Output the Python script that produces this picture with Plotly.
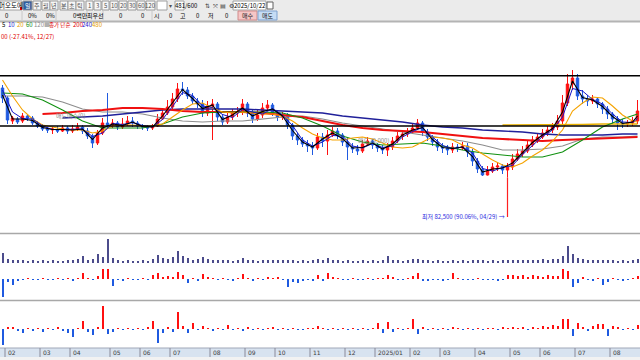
import plotly.graph_objects as go

W, H = 640, 360
FONT = "Noto Sans CJK KR"

# ---------------- chart data (prices in thousand KRW, one candle ~ 3 trading days) ----------------
opens = [172,162,139,141,139,144,142,137,134,131, 130,130,129,132,129,131,133,129,124,117,
         127,137,135,137,133,136,139,137,134,133, 132,134,141,147,153,161,171,170,164,159,
         156,147,154,156,143,138,143,147,148,156, 147,141,145,152,155,147,143,145,135,124,
         120,116,114,112,123,119,125,129,125,118, 113,111,109,116,119,115,112,110,113,119,
         124,126,128,132,137,128,123,118,113,112, 110,113,112,114,108,99,91,85,89,93,
         94,90,93,101,106,109,115,120,123,127, 130,133,139,157,176,182,164,161,159,161,
         156,151,146,141,137,136,137,139]
highs = [175,164,144,143,147,146,144,139,136,133, 133,134,135,134,135,137,135,132,126,130,
         142,167,141,139,142,144,143,139,136,135, 136,146,152,160,167,177,178,173,167,162,
         160,159,161,158,146,147,151,153,161,158, 150,150,157,160,157,150,148,147,137,127,
         123,120,118,127,127,130,133,132,127,122, 117,115,120,123,121,117,115,117,123,128,
         130,132,136,141,139,131,125,121,117,115, 117,116,118,117,111,102,94,94,97,98,
         96,97,106,111,114,119,124,127,131,134, 137,145,165,186,190,186,170,165,165,163,
         158,154,148,144,141,140,143,160]
lows = [157,136,136,136,137,139,135,132,129,127, 126,127,128,126,127,129,126,121,112,115,
        125,131,132,130,131,134,133,131,130,129, 130,133,140,145,150,158,165,161,156,152,
        143,144,120,139,135,136,140,143,145,143, 137,139,142,150,144,139,140,131,120,115,
        113,108,105,110,113,105,123,121,114,100, 107,105,107,114,111,108,106,104,110,117,
        120,123,126,131,124,119,114,109,107,105, 107,108,110,103,94,87,84,84.5,87,89,
        86,82.5,90,99,103,107,113,117,121,124, 127,130,136,154,170,160,156,154,156,152,
        146,141,136,130,132,133,134,136]
closes = [162,140,142,138,144,142,137,134,131,130, 131,129,132,129,131,133,129,124,117,127,
          137,135,137,133,136,139,137,134,133,132, 134,141,147,153,161,171,170,164,159,156,
          147,154,156,143,138,143,147,148,156,147, 141,145,152,155,147,143,145,135,124,120,
          116,114,112,123,119,125,129,125,118,113, 111,109,116,119,115,112,110,113,119,124,
          126,128,132,137,128,123,118,113,112,110, 113,112,114,108,99,91,85,89,93,94,
          90,93,101,106,109,115,120,123,127,130, 133,139,157,176,182,164,161,159,161,156,
          151,146,141,137,136,137,139,149]

# month axis
month_labels = ["02", "03", "04", "05", "06", "07", "08", "09", "10", "11", "12",
                "2025/01", "02", "03", "04", "05", "06", "07", "08"]
month_first_idx = [1, 8, 14, 22, 28, 34, 42, 49, 55, 62, 69, 75, 82, 88, 95, 102, 108, 115, 122]

ma_short_idx = list(range(0, 128, 2)) + [127]
ma5 = [165,141,141,139.5,132.5,130.5,130.5,130,131,120.5,
       132,136,134.5,138,133.5,133,144,157,170.5,161.5,
       151.5,155,140.5,145,152,144,148.5,151,144,129.5,
       118,113,121,127,121.5,112,112.5,117,111,116,
       125,130,132.5,120.5,112.5,111.5,113,103.5,88,91,
       92,97,107.5,117.5,125,131.5,148,179,162.5,160,
       153.5,143.5,136.5,138,144]
ma10 = [170,148,141.5,141,134,130.5,130.5,130.5,131,123.5,
        127,136.5,135.5,137.5,134.5,133,140.5,153.5,167.5,164.5,
        154,152.5,145.5,142.5,150.5,148,146,151.5,145,134.5,
        120,114,118,124.5,124,114,112,116.5,112.5,114,
        123,128.5,132.5,123,114.5,111.5,113,107,91.5,89,
        92.5,94.5,105.5,114.5,123.5,130,143,171.5,169,160.5,
        156,146,138,137.5,141.5]
ma20 = [180,164,150,141,135,133,131,130,130,127,
        129,134,135,135,134,134,136,143,150,156,
        157,152,148,147,148,147,146,146,144,139,
        132,126,122,120,120,122,123,121,117,113,
        112,113,118,123,122,120,115,112,106,100,
        95,93,97,104,110,119,130,149,157,163,
        162,154,145,139,138]
ma_long_idx = list(range(0, 128, 4)) + [127]
ma60 = [167,166,160,150,139,132,132,132,136,143,
        147,148,148,148,147,142,134,124,118,115,
        116,117,114,110,107,105,103,103,108,120,
        133,141,146]
ma120 = [164,164,163,158,151,148,148,146,142,139,
         138,139,139,141,143,144,141,137,134,131,
         128,125,122,119,115,110,110,111,114,121,
         123,123,124]
ma200 = [None,None,146,147,149,150,152,152,151,149,
         148,148,148,147,145,143,139,135,132,130,
         129,128,126,124,122,121,120,119,120,121,
         122,123,123]
ma240 = [None,None,None,142,143,144,146,148,150,151,
         151,151,151,150,149,148,147,144,142,140,
         138,135,133,132,130,129,128,126,125,125,
         125,126,126]
ma480_idx = [100, 104, 108, 112, 116, 120, 124, 127]
ma480 = [135, 135, 135, 135, 135.5, 136, 136, 136]

# volume (thousand shares) and two net-buying panes
volume = [100,40,25,30,25,20,25,20,30,20, 25,20,20,25,30,35,70,30,35,90,
          60,230,50,25,20,25,20,20,25,20, 40,80,50,40,60,120,70,50,30,35,
          60,35,30,25,30,25,20,30,50,30, 25,20,25,30,25,30,25,30,25,20,
          25,20,25,35,30,50,30,25,20,25, 20,20,25,20,25,20,25,70,30,25,
          20,25,40,35,30,25,20,25,20,20, 25,20,25,20,25,30,25,20,25,20,
          25,30,25,30,25,30,25,30,35,30, 35,40,70,160,90,50,35,30,25,30,
          25,30,25,20,25,20,25,40]
net_a = [-18,-3,-6,-2,-1,1,-1,-1,1,-1, -1,1,-1,1,-2,1,6,1,-1,3,
         10,10,-7,-1,-2,1,-1,-1,1,-1, 4,6,2,3,2,7,4,-4,1,-2,
         5,2,1,-1,1,-1,-2,1,5,1, -2,1,-1,2,1,2,-1,-8,-3,-4,
         -2,-1,-2,4,-2,6,2,1,-1,-1, 1,-1,-1,1,-1,1,1,4,2,-1,
         -1,1,3,6,-2,-2,-1,-1,-2,-1, 6,1,-1,-1,-1,1,-1,-1,-1,-2,
         -1,4,4,3,4,2,4,3,2,4, 3,3,10,8,-8,-4,2,-1,-2,1,
         -6,-3,1,-1,-2,-1,1,3]
net_b = [-16,2,2,-2,-4,1,-2,1,-3,1, -1,2,-2,-4,-8,1,8,-3,-6,2,
         23,-5,-3,1,-1,1,-1,1,-1,2, 8,-14,-4,2,-3,17,3,-4,6,-1,
         3,1,-2,1,-1,4,-1,1,-2,2, -1,1,-1,1,2,-1,1,-1,1,-1,
         -1,1,1,3,1,-1,1,-1,1,-1, 1,-1,1,-1,1,6,-4,7,-3,1,
         -1,1,10,-5,2,-1,1,-1,1,-1, 2,1,-1,1,-1,1,-1,1,1,-1,
         2,1,2,1,2,-1,2,1,3,2, 4,3,10,10,-7,6,2,-2,3,5,
         5,-7,3,2,-1,1,-1,4]

hline_levels = [184.3, 134.0]
low_text = "최저 82,500 (90.06%, 04/29) →"
high_text = "00 (-27.41%, 12/27)"
legend_items = [("5", "#000000"), ("10", "#1a1ad0"), ("20", "#e8a000"), ("60", "#109010"),
                ("120", "#8c8c8c"), ("■", "#b0b0b0"), ("종가 단순", "#e00000"),
                ("200", "#e00000"), ("240", "#1a1ad0"), ("480", "#e8a000")]

# ---------------- figure ----------------
idx = list(range(len(closes)))
UP, DOWN = "#ff1010", "#1f5ae0"

def py(p):
    return 1 - p / H

def pxp(p):
    return p / W

fig = go.Figure()
fig.add_trace(go.Candlestick(
    x=idx, open=opens, high=highs, low=lows, close=closes,
    increasing=dict(line=dict(color=UP, width=1), fillcolor=UP),
    decreasing=dict(line=dict(color=DOWN, width=1), fillcolor=DOWN),
    whiskerwidth=0, showlegend=False, hoverinfo="skip", xaxis="x", yaxis="y"))

def ma_line(xs, ys, color, width):
    fig.add_trace(go.Scatter(x=xs, y=ys, mode="lines", line=dict(color=color, width=width),
                             showlegend=False, hoverinfo="skip", xaxis="x", yaxis="y",
                             connectgaps=False))

ma_line(ma_long_idx, ma120, "#8c8c8c", 1.1)
ma_line(ma_long_idx, ma240, "#20209a", 1.4)
ma_line(ma_long_idx, ma200, "#f01010", 2.0)
ma_line(ma480_idx, ma480, "#e8b000", 1.4)
ma_line(ma_long_idx, ma60, "#109010", 1.1)
ma_line(ma_short_idx, ma20, "#f5a300", 1.1)
ma_line(ma_short_idx, ma10, "#1515c8", 1.0)
ma_line(ma_short_idx, ma5, "#000000", 1.1)

fig.add_trace(go.Bar(x=idx, y=volume, width=0.4, marker=dict(color="#4c4c8c", line=dict(width=0)),
                     showlegend=False, hoverinfo="skip", xaxis="x", yaxis="y2"))
fig.add_trace(go.Bar(x=idx, y=net_a, width=0.4,
                     marker=dict(color=[UP if v >= 0 else DOWN for v in net_a], line=dict(width=0)),
                     showlegend=False, hoverinfo="skip", xaxis="x", yaxis="y3"))
fig.add_trace(go.Bar(x=idx, y=net_b, width=0.4,
                     marker=dict(color=[UP if v >= 0 else DOWN for v in net_b], line=dict(width=0)),
                     showlegend=False, hoverinfo="skip", xaxis="x", yaxis="y4"))

shapes = []
ann = []

def rect(x0, y0, x1, y1, fill, line=None, lw=1):
    shapes.append(dict(type="rect", xref="paper", yref="paper", x0=pxp(x0), x1=pxp(x1),
                       y0=py(y1), y1=py(y0), fillcolor=fill,
                       line=dict(color=line if line else fill, width=lw if line else 0)))

def hline(y, color, width, x0=0, x1=W):
    shapes.append(dict(type="line", xref="paper", yref="paper", x0=pxp(x0), x1=pxp(x1),
                       y0=py(y), y1=py(y), line=dict(color=color, width=width)))

def vline(x, y0, y1, color, width=1):
    shapes.append(dict(type="line", xref="paper", yref="paper", x0=pxp(x), x1=pxp(x),
                       y0=py(y0), y1=py(y1), line=dict(color=color, width=width)))

def text(x, y, s, color="#000000", size=8, anchor="center", family=FONT):
    ann.append(dict(xref="paper", yref="paper", x=pxp(x), y=py(y), text=s, showarrow=False,
                    xanchor=anchor, yanchor="middle", borderpad=0,
                    font=dict(size=size, color=color, family=family)))

# toolbar
rect(0, 0, W, 21, "#ebebeb")
hline(21.5, "#b4b4b4", 2)
rect(0, 1, 22, 10, "#ffffff", "#a0a0a0")
text(10.5, 5.5, "머오도에", size=6.5)
rect(20, 7, 22, 10, "#e00000")
row1 = [("일", 23, 32), ("주", 33, 41), ("월", 42, 50), ("년", 50, 58),
        ("분", 60, 68), ("초", 68, 76), ("틱", 76, 84),
        ("1", 86, 93), ("3", 94, 101), ("5", 102, 109), ("10", 110, 118), ("20", 119, 127),
        ("30", 128, 136), ("60", 137, 145), ("120", 146, 155)]
for s, a, b in row1:
    sel = s == "일"
    rect(a, 1, b, 10, "#2f5f9f" if sel else "#f6f6f6", "#9a9a9a")
    text((a + b) / 2, 5.5, s, color="#ffffff" if sel else "#505050", size=6)
rect(157, 1, 167, 10, "#ffffff", "#a0a0a0")
text(170, 5.5, "▾", color="#505050", size=6, family="DejaVu Sans")
rect(175, 1, 184, 10, "#ffffff", "#a0a0a0")
text(179.5, 5.5, "481", size=6)
text(191, 5.5, "/600", size=6)
for i, s in enumerate(["⇅", "⤧", "▤", "⚙"]):
    text(207 + 8 * i, 5.5, s, color="#404040", size=6, family="DejaVu Sans")
rect(233, 1, 266, 10, "#ffffff", "#a0a0a0")
text(249.5, 5.5, "2025/10/22", size=6)
rect(267, 2, 273, 9, "#ffffff", "#606060")

row2 = [("0", 7), ("0%", 32), ("0%", 50), ("0백만", 80), ("최우선", 95), ("0", 121), ("0", 143),
        ("시", 157), ("0", 171), ("고", 183), ("0", 198), ("저", 211), ("0", 227)]
for s, x in row2:
    text(x, 15.5, s, size=6)
for x in [22, 56, 87, 103, 152]:
    vline(x, 11, 20, "#c8c8c8")
rect(238, 11, 257, 20, "#f6c6c6", "#d08a8a")
text(247.5, 15.5, "매수", color="#202020", size=6)
rect(258, 11, 277, 20, "#c6dcf4", "#7ea2d0")
text(267.5, 15.5, "매도", color="#202020", size=6)

# indicator legend
xs = [1, 7, 16, 25, 33, 43, 48, 72, 81, 91]
sizes = [6, 6, 6, 6, 6, 6, 5.5, 6, 6, 6]
for (s, c), x, fs in zip(legend_items, xs, sizes):
    text(x, 25, s, color=c, size=fs, anchor="left")
text(0, 36.5, high_text, color="#e00000", size=6, anchor="left")

# price pane lines
for lv in hline_levels:
    shapes.append(dict(type="line", xref="paper", yref="y", x0=0, x1=1, y0=lv, y1=lv,
                       line=dict(color="#000000", width=1.6)))
low_i = lows.index(min(lows))
shapes.append(dict(type="line", xref="x", yref="y", x0=low_i, x1=low_i, y0=lows[low_i], y1=43,
                   line=dict(color="#ff2020", width=1.2)))
ann.append(dict(xref="x", yref="y", x=low_i, y=43.5, text=low_text, showarrow=False,
                xanchor="right", yanchor="middle", xshift=-1,
                font=dict(size=6, color="#2a2ae0", family=FONT)))
text(55, 115.5, "매도매수(0)", color="#8a8a8a", size=6, anchor="left")
text(357, 141, "매도 (0.000)", color="#8a8a8a", size=6, anchor="left")

# pane separators
hline(233.5, "#a8a8a8", 1.5)
hline(300.5, "#a8a8a8", 1.5)

# date band
rect(0, 348, W, 357, "#d8e3f0")
hline(348, "#a0a8b8", 1)
rect(0, 357, W, 360, "#f2f2f2")
for m, s in zip(month_first_idx, month_labels):
    shapes.append(dict(type="line", xref="x", yref="paper", x0=m - 0.5, x1=m - 0.5,
                       y0=py(357), y1=py(348), line=dict(color="#8a8a9a", width=1)))
    ann.append(dict(xref="x", yref="paper", x=m - 0.5, y=py(352.5), text=s, showarrow=False,
                    xanchor="left", yanchor="middle", xshift=1,
                    font=dict(size=6, color="#404040", family="DejaVu Sans")))

fig.update_layout(
    width=W, height=H, margin=dict(l=0, r=0, t=0, b=0),
    paper_bgcolor="#ffffff", plot_bgcolor="#ffffff", showlegend=False,
    shapes=shapes, annotations=ann, bargap=0,
    xaxis=dict(domain=[0, 1], range=[-0.5, len(closes) - 0.5], visible=False,
               rangeslider=dict(visible=False), fixedrange=True, anchor="y"),
    yaxis=dict(domain=[py(232), py(40)], range=[28, 220], visible=False, fixedrange=True),
    yaxis2=dict(domain=[py(263), py(235)], range=[0, 270], visible=False, anchor="x"),
    yaxis3=dict(domain=[py(300), py(265)], range=[-21, 14], visible=False, anchor="x"),
    yaxis4=dict(domain=[py(348), py(302)], range=[-19, 27], visible=False, anchor="x"),
)

fig.write_html("out.html", config={"displayModeBar": False},
               post_script="document.body.style.margin='0';document.body.style.overflow='hidden';")
